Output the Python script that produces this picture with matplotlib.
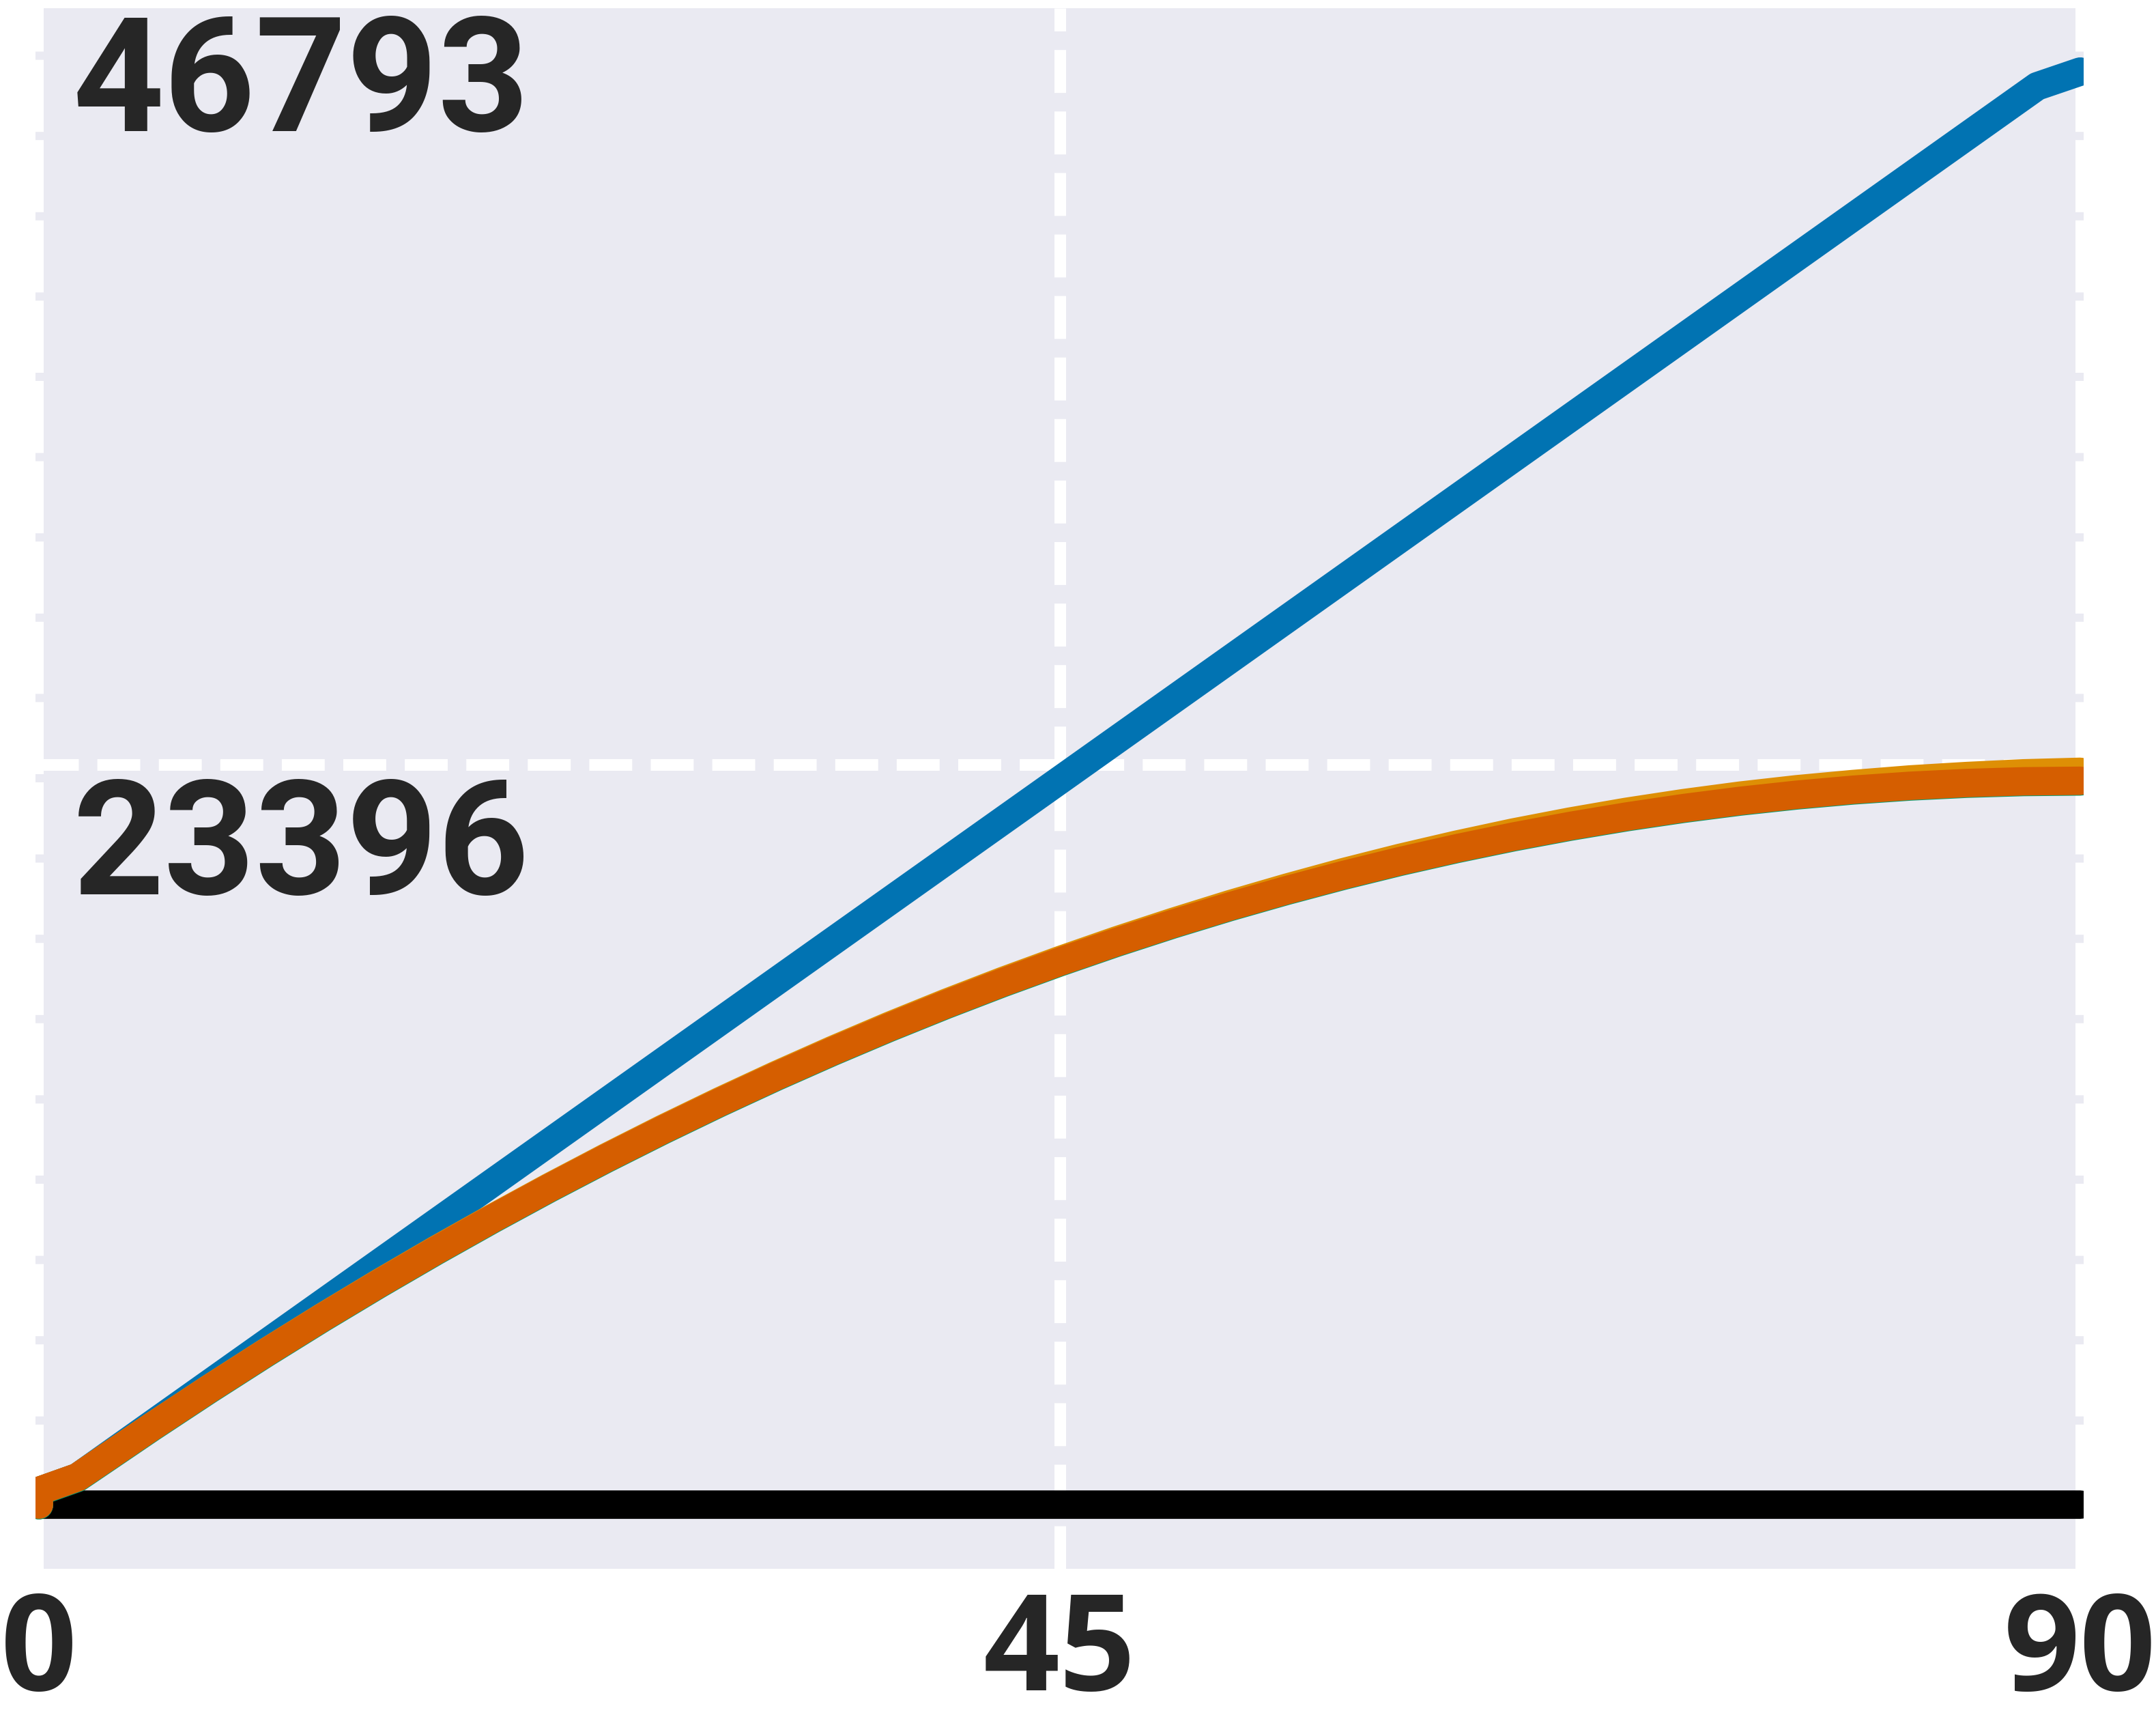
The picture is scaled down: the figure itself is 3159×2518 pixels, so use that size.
import matplotlib
matplotlib.use('Agg')
import matplotlib.pyplot as plt
import matplotlib.transforms as mtransforms

# x axis
x_ticks = [0, 45, 90]
x_tick_labels = ['0', '45', '90']

# y labels (written inside the plot)
y_label_vals = [46793, 23396.5]
y_label_text = ['46793', '23396']

# curves
x_curve = [0, 0, 1.7, 2.5, 5, 7.5, 10, 12.5, 15, 17.5, 20, 22.5, 25, 27.5, 30, 32.5, 35, 37.5,
           40, 42.5, 45, 47.5, 50, 52.5, 55, 57.5, 60, 62.5, 65, 67.5, 70, 72.5, 75, 77.5,
           80, 82.5, 85, 87.5, 90]
vermillion = [710, 1130, 1550, 1926, 3107, 4254, 5367, 6446, 7490, 8500, 9476, 10418, 11326,
              12199, 13038, 13843, 14613, 15349, 16051, 16719, 17352, 17952, 18517, 19048,
              19544, 20007, 20435, 20828, 21188, 21513, 21804, 22061, 22284, 22472, 22626,
              22746, 22831, 22883, 22900]
# golden line peeks out above the vermillion one, green just below it
golden_gap = [0, 0, 0, 2, 5, 8, 10, 12, 15, 18, 20, 22, 25, 28, 30, 32, 35, 38, 40, 42, 45,
              50, 55, 65, 75, 88, 100, 112, 125, 135, 145, 152, 160, 168, 175, 195, 215, 245, 275]
green_gap = [20] * len(x_curve)
golden = [v + g for v, g in zip(vermillion, golden_gap)]
green = [v - g for v, g in zip(vermillion, green_gap)]

blue_x = [0, 0, 1.7, 45, 88.1, 90]
blue_y = [710, 1130, 1550, 22915, 44190, 44640]

black_x = [0, 90]
black_y = [710, 710]

W, H = 3159, 2518
fig = plt.figure(figsize=(W / 300, H / 300), dpi=300)
ax = fig.add_axes([52 / W, (H - 2298) / H, 3001 / W, 2286 / H])
ax.set_facecolor('#EAEAF2')

ax.set_xlim(-0.15, 90.15)
ax.set_ylim(-1256, 46583)

# grid lines (white dashed)
ax.axvline(45, color='white', linewidth=4.08, linestyle='--', zorder=1)
ax.axhline(23396.5, color='white', linewidth=4.08, linestyle='--', zorder=1)

# lines
kw = dict(linewidth=10, solid_capstyle='round', solid_joinstyle='round')
ax.plot(black_x, black_y, color='#000000', zorder=3, **kw)
ax.plot(blue_x, blue_y, color='#0173B2', zorder=4, **kw)
ax.plot(x_curve, golden, color='#DE8F05', zorder=5, **kw)
ax.plot(x_curve, green, color='#029E73', zorder=6, **kw)
ax.plot(x_curve, vermillion, color='#D55E00', zorder=7, **kw)

# spines
for s in ['top', 'bottom']:
    ax.spines[s].set_visible(False)
for s in ['left', 'right']:
    ax.spines[s].set_color('white')
    ax.spines[s].set_linewidth(5.76)
    ax.spines[s].set_linestyle((0, (3.4, 1.5)))
    ax.spines[s].set_zorder(2)

# ticks
ax.set_xticks(x_ticks)
ax.set_xticklabels(x_tick_labels, fontsize=47, fontweight='bold', color='#262626',
                   family=['Open Sans', 'DejaVu Sans'])
ax.tick_params(axis='x', length=0, pad=7)
ax.set_yticks([])

# y labels inside the plot
off = mtransforms.ScaledTranslation(0, -190 / 300, fig.dpi_scale_trans)
for v, t in zip(y_label_vals, y_label_text):
    ax.text(1.5, v, t, transform=ax.transData + off, ha='left', va='baseline',
            fontsize=56, fontweight='bold', color='#262626',
            family=['Roboto', 'DejaVu Sans'], clip_on=False, zorder=8)

fig.savefig('out.png', dpi=300)
